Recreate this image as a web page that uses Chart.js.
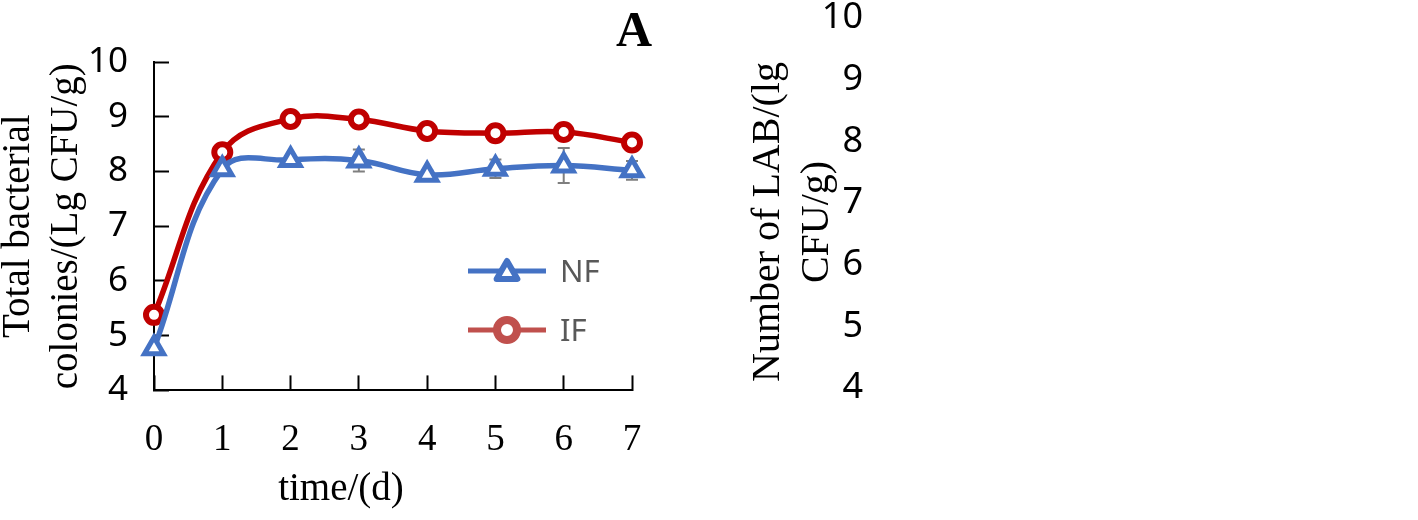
<!DOCTYPE html>
<html><head><meta charset="utf-8">
<script src="https://cdn.jsdelivr.net/npm/chart.js@4.4.1/dist/chart.umd.min.js"></script>
<style>
html,body{margin:0;padding:0;background:#fff;width:1418px;height:520px;overflow:hidden;position:relative}
canvas{position:absolute;display:block}
#ca{left:0;top:0}
#cb{left:700px;top:-20px}
#cc{left:744px;top:0}
</style></head><body>
<canvas id="ca" width="700" height="520"></canvas>
<canvas id="cb" width="300" height="560"></canvas>
<canvas id="cc" width="100" height="444"></canvas>
<script>
// ---- data ----
const days = ['0','1','2','3','4','5','6','7'];
const nfValues = [4.77, 8.04, 8.21, 8.20, 7.94, 8.05, 8.11, 8.02];
const nfErrors = [0.05, 0.05, 0.07, 0.20, 0.08, 0.17, 0.32, 0.17];
const ifValues = [5.38, 8.35, 8.96, 8.95, 8.74, 8.70, 8.72, 8.53];
const ifErrors = [0.05, 0.05, 0.06, 0.15, 0.05, 0.05, 0.05, 0.05];
const yTicks = [4, 5, 6, 7, 8, 9, 10];
const seriesNames = ['NF', 'IF'];
const panelLabel = 'A';
const xTitle = 'time/(d)';
const yTitleLeft = ['Total bacterial', 'colonies/(Lg CFU/g)'];
const yTitleRight = ['Number of LAB/(lg', 'CFU/g)'];

const SERIF = "'Liberation Serif','Times New Roman',serif";
const SANS = "'Noto Sans','Liberation Sans',sans-serif";

const errorBars = {
  id: 'errorBars',
  beforeDatasetsDraw(chart) {
    const {ctx, scales: {x, y}} = chart;
    ctx.save();
    ctx.strokeStyle = '#7f7f7f';
    ctx.lineWidth = 2;
    chart.data.datasets.forEach(ds => {
      const errs = ds.errors;
      if (!errs) return;
      ds.data.forEach((v, j) => {
        const px = x.getPixelForValue(j);
        const t = y.getPixelForValue(v + errs[j]);
        const b = y.getPixelForValue(v - errs[j]);
        ctx.beginPath();
        ctx.moveTo(px, t); ctx.lineTo(px, b);
        ctx.moveTo(px - 6, t); ctx.lineTo(px + 6, t);
        ctx.moveTo(px - 6, b); ctx.lineTo(px + 6, b);
        ctx.stroke();
      });
    });
    ctx.restore();
  }
};

function marker(ctx, style, x, y, r, bw, color) {
  ctx.beginPath();
  if (style === 'triangle') {
    let a = 0;
    ctx.moveTo(x + Math.sin(a) * r, y - Math.cos(a) * r);
    a += Math.PI * 2 / 3;
    ctx.lineTo(x + Math.sin(a) * r, y - Math.cos(a) * r);
    a += Math.PI * 2 / 3;
    ctx.lineTo(x + Math.sin(a) * r, y - Math.cos(a) * r);
    ctx.closePath();
  } else {
    ctx.arc(x, y, r, 0, Math.PI * 2);
  }
  ctx.fillStyle = '#fff';
  ctx.fill();
  ctx.lineWidth = bw;
  ctx.strokeStyle = color;
  ctx.lineJoin = 'round';
  ctx.stroke();
}

const innerLegend = {
  id: 'innerLegend',
  afterDraw(chart) {
    const {ctx, chartArea: ca} = chart;
    const x0 = ca.left + 314, x1 = ca.left + 392, mx = ca.left + 353;
    ctx.save();
    chart.data.datasets.forEach((ds, i) => {
      const y = ca.top + 209 + i * 59;
      ctx.beginPath();
      ctx.moveTo(x0, y); ctx.lineTo(x1, y);
      ctx.strokeStyle = ds.legendColor; ctx.lineWidth = 5; ctx.lineCap = 'butt';
      ctx.stroke();
      if (ds.pointStyle === 'triangle') marker(ctx, 'triangle', mx, y + 2, 12, 6, ds.legendColor);
      else marker(ctx, 'circle', mx, y, 10, 8, ds.legendColor);
      ctx.fillStyle = '#595959';
      ctx.font = '31px ' + SANS;
      ctx.textBaseline = 'middle';
      ctx.textAlign = 'left';
      ctx.fillText(ds.label, x1 + 14, y + 2);
    });
    ctx.restore();
  }
};

const setTicks = s => { s.ticks = yTicks.map(v => ({value: v})); };

new Chart(document.getElementById('ca'), {
  type: 'line',
  data: {
    labels: days,
    datasets: [
      {label: seriesNames[0], data: nfValues, errors: nfErrors, borderColor: '#4472C4', borderWidth: 5.5,
       tension: 0.4, pointStyle: 'triangle', pointRadius: 11, pointBorderWidth: 5,
       pointBackgroundColor: '#fff', pointBorderColor: '#4472C4', clip: false, legendColor: '#4472C4'},
      {label: seriesNames[1], data: ifValues, errors: ifErrors, borderColor: '#C00000', borderWidth: 5.5,
       tension: 0.4, pointStyle: 'circle', pointRadius: 8, pointBorderWidth: 6,
       pointBackgroundColor: '#fff', pointBorderColor: '#C00000', clip: false, legendColor: '#C0504D'}
    ]
  },
  options: {
    responsive: false, animation: false, events: [],
    layout: {padding: {left: 30, right: 48, top: 0, bottom: 0}},
    plugins: {
      legend: {display: false}, tooltip: {enabled: false},
      title: {display: true, text: panelLabel, position: 'top', align: 'end', color: '#000',
              font: {family: SERIF, size: 50, weight: 'bold', lineHeight: 1}, padding: {top: 0, bottom: 4}},
      subtitle: {display: true, text: xTitle, position: 'bottom', align: 'center', color: '#000',
                 font: {family: SERIF, size: 39, weight: 'normal', lineHeight: 1.2}, padding: {top: 0, bottom: 7}}
    },
    scales: {
      x: {
        grid: {display: true, drawOnChartArea: false, drawTicks: true, tickLength: -15, tickColor: '#000', tickWidth: 2},
        border: {display: true, color: '#000', width: 2},
        ticks: {font: {family: SERIF, size: 37}, color: '#000', padding: 43, maxRotation: 0, autoSkip: false},
        afterFit(s) { s.height = 75.8; }
      },
      y: {
        min: 4, max: 10,
        afterBuildTicks: setTicks,
        grid: {display: true, drawOnChartArea: false, drawTicks: true, tickLength: -15, tickColor: '#000', tickWidth: 2},
        border: {display: true, color: '#000', width: 2},
        ticks: {font: {family: SANS, size: 35}, color: '#000', padding: 41},
        title: {display: true, text: yTitleLeft, color: '#000',
                font: {family: SERIF, size: 39, lineHeight: 1.22}, padding: {top: -35, bottom: 0}},
        afterFit(s) { s.width = 124; }
      },
      y2: {
        position: 'right', display: true,
        grid: {display: false, drawTicks: false}, border: {display: false},
        ticks: {display: false},
        afterFit(s) { s.width = 20; }
      }
    }
  },
  plugins: [errorBars, innerLegend]
});

new Chart(document.getElementById('cb'), {
  type: 'line',
  data: {labels: [], datasets: []},
  options: {
    responsive: false, animation: false, events: [],
    layout: {padding: {left: 0, right: 0, top: 38, bottom: 152}},
    plugins: {legend: {display: false}, tooltip: {enabled: false}},
    scales: {
      x: {display: false},
      y: {
        min: 4, max: 10,
        afterBuildTicks: setTicks,
        grid: {display: false, drawTicks: false, tickLength: 0},
        border: {display: false},
        ticks: {font: {family: SANS, size: 36}, color: '#000', padding: 0},
        afterFit(s) { s.width = 163; }
      }
    }
  }
});

new Chart(document.getElementById('cc'), {
  type: 'line',
  data: {labels: [], datasets: []},
  options: {
    responsive: false, animation: false, events: [],
    layout: {padding: 0},
    plugins: {legend: {display: false}, tooltip: {enabled: false}},
    scales: {
      x: {display: false},
      y: {
        display: true,
        grid: {display: false, drawTicks: false}, border: {display: false},
        ticks: {display: false},
        title: {display: true, text: yTitleRight, color: '#000',
                font: {family: SERIF, size: 40, lineHeight: 1.22}, padding: {top: 0, bottom: 0}}
      }
    }
  }
});
</script>
</body></html>
